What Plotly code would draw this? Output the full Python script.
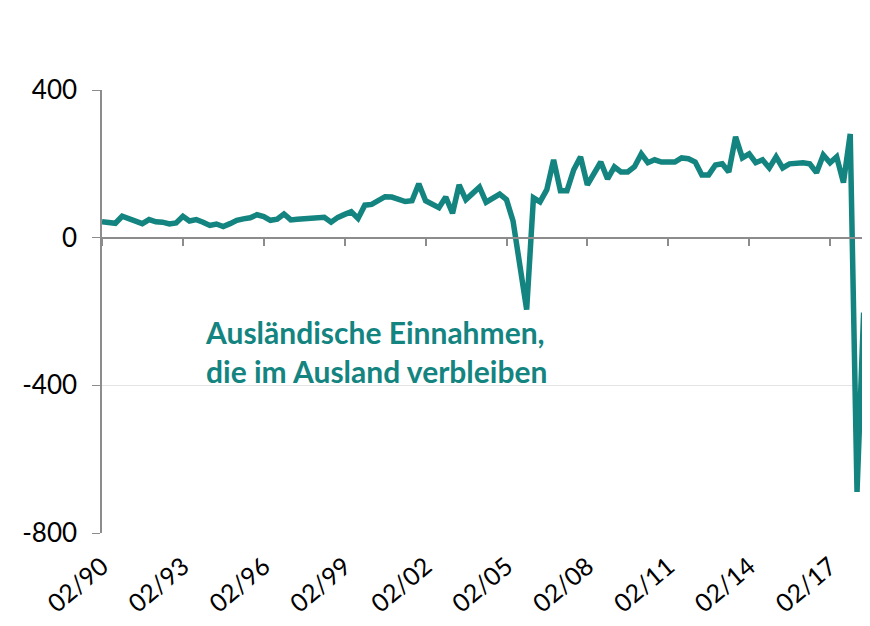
import plotly.graph_objects as go
import pandas as pd

# Quarterly values, 1990Q1 .. 2018Q2 (dates placed at mid-quarter month)
dates = pd.date_range("1990-02-01", periods=114, freq="3MS").strftime("%Y-%m-%d").tolist()
values = [
    43, 41, 39, 58, 52, 46, 38, 49, 43, 42, 37, 40,
    58, 45, 49, 42, 33, 37, 30, 38, 47, 51, 54, 62,
    57, 47, 50, 64, 48, 50, 51, 52, 53, 55, 42, 55,
    63, 70, 52, 88, 90, 100, 111, 110, 102, 98, 100, 146,
    100, 90, 81, 110, 66, 143, 103, 120, 137, 96, 105, 118,
    103, 45, -75, -195, 108, 97, 130, 211, 127, 127, 184, 219,
    143, 176, 205, 159, 192, 178, 178, 192, 227, 203, 211, 205,
    205, 205, 216, 214, 205, 170, 170, 197, 200, 178, 273, 216,
    227, 203, 211, 189, 219, 189, 200, 203, 203, 200, 176, 224,
    203, 219, 149, 281, -689, -203,
]
tick_vals = ["1990-02-01", "1993-02-01", "1996-02-01", "1999-02-01", "2002-02-01",
             "2005-02-01", "2008-02-01", "2011-02-01", "2014-02-01", "2017-02-01"]
tick_text = ["02/90", "02/93", "02/96", "02/99", "02/02", "02/05", "02/08", "02/11", "02/14", "02/17"]
y_ticks = [-800, -400, 0, 400]
y_tick_text = ["-800", "-400", "0", "400"]
annotation_text = "Ausländische Einnahmen,<br>die im Ausland verbleiben"

teal = "#13847F"
font_family = "Lato, 'Open Sans', sans-serif"

fig = go.Figure()
fig.add_trace(go.Scatter(x=dates, y=values, mode="lines",
                         line=dict(color=teal, width=5.5), showlegend=False,
                         hoverinfo="skip", cliponaxis=False))
# invisible trace to bind the zero-crossing axis
fig.add_trace(go.Scatter(x=[dates[0], dates[-1]], y=[0, 0], mode="lines",
                         line=dict(width=0), xaxis="x2", yaxis="y",
                         showlegend=False, hoverinfo="skip"))

xrange = [dates[0], "2018-05-20"]
# page body has an 8px default margin, so the figure is shifted by 8px
fig.update_layout(
    width=862, height=618,
    margin=dict(l=94, r=5, t=82, b=93),
    plot_bgcolor="white", paper_bgcolor="white",
    font=dict(family=font_family, size=26, color="#000000"),
    xaxis=dict(type="date", range=xrange, tickvals=tick_vals, ticktext=tick_text,
               tickangle=-40, showgrid=False, showline=False, ticks="",
               zeroline=False, tickfont=dict(size=25), automargin=False,
               ticklabelstandoff=13),
    xaxis2=dict(type="date", range=xrange, overlaying="x", anchor="free",
                position=(0 - (-800)) / 1200, tickvals=tick_vals, showticklabels=False,
                showline=True, linecolor="#8c8c8c", linewidth=1.5,
                ticks="outside", ticklen=8, tickcolor="#8c8c8c", tickwidth=1.5,
                showgrid=False, zeroline=False),
    yaxis=dict(range=[-800, 400], tickvals=y_ticks, ticktext=y_tick_text, showgrid=True,
               gridcolor="#e3e3e3", gridwidth=1, zeroline=False,
               showline=True, linecolor="#8c8c8c", linewidth=1.5,
               ticks="outside", ticklen=8, tickcolor="#8c8c8c",
               tickfont=dict(size=26), ticklabelstandoff=10, automargin=False),
    annotations=[dict(text="<b>" + annotation_text + "</b>", xref="paper", yref="paper",
                      x=0.132, y=0.50, xanchor="left", yanchor="top", align="left",
                      showarrow=False, font=dict(size=30, color=teal, family=font_family))],
)
fig.write_html("out.html")
